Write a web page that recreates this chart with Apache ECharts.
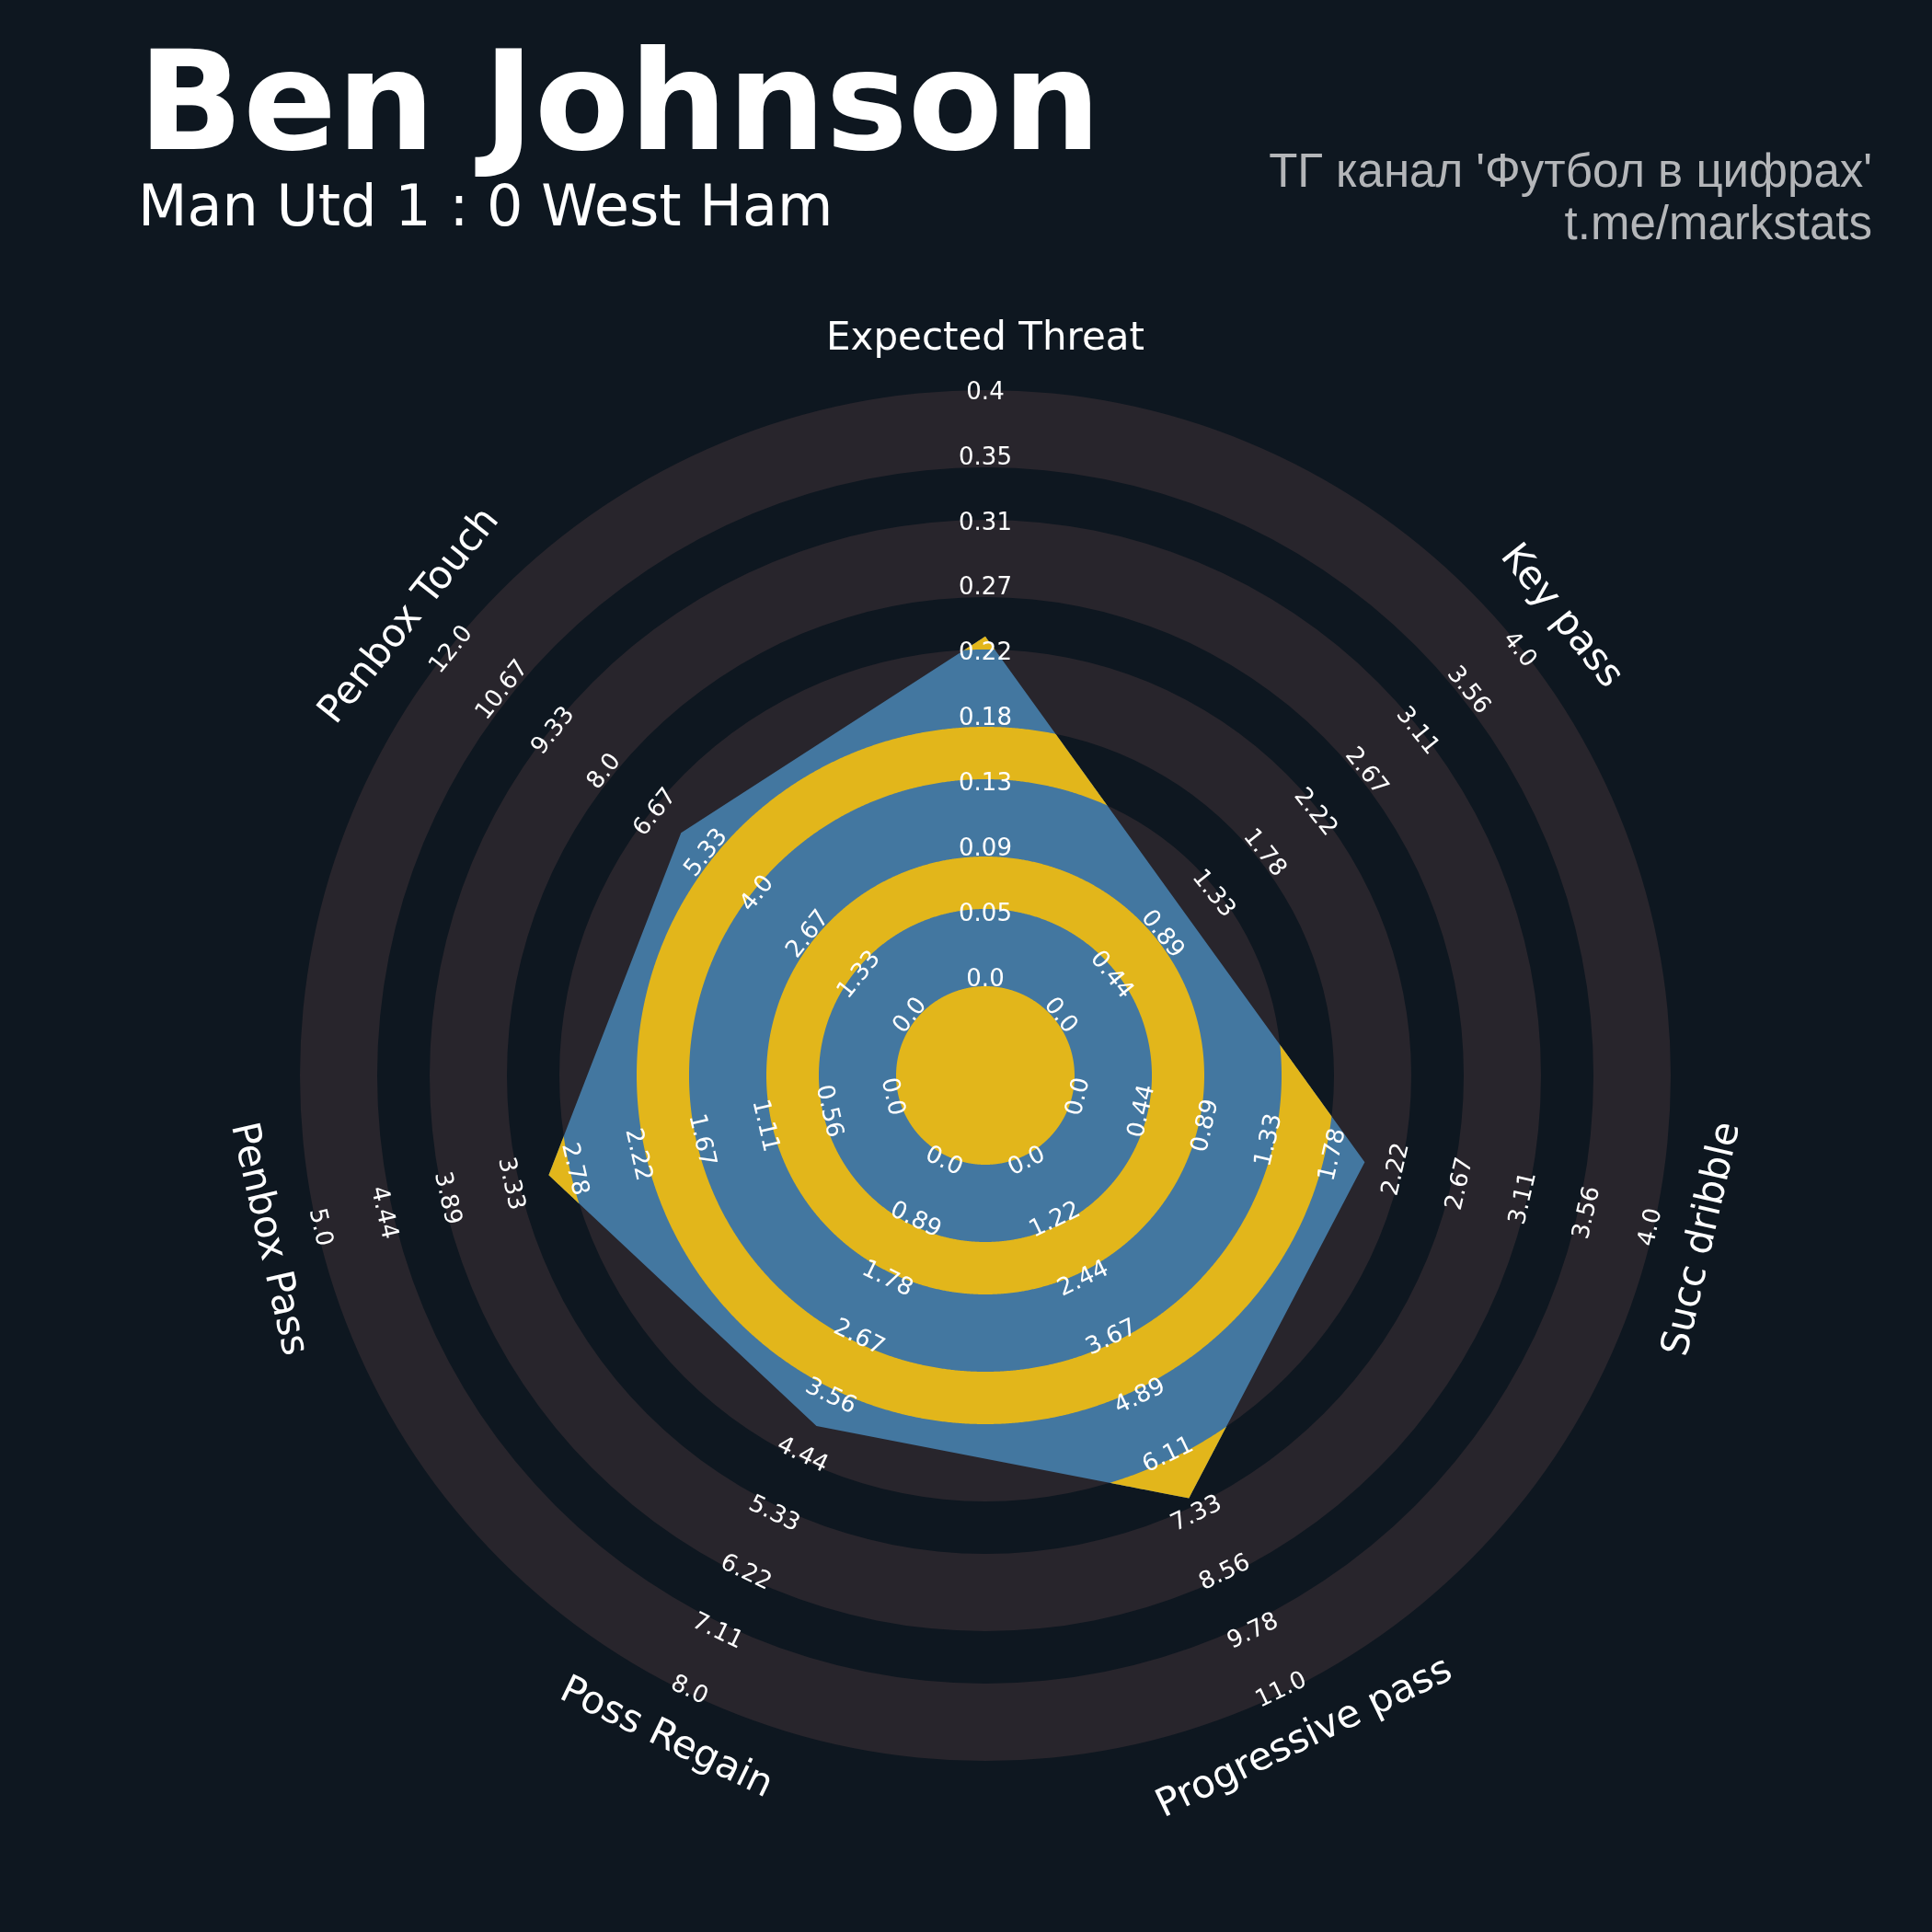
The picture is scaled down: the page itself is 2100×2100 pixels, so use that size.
<!DOCTYPE html>
<html>
<head>
<meta charset="utf-8">
<script src="https://cdn.jsdelivr.net/npm/echarts@6/dist/echarts.min.js"></script>
<style>
html,body{margin:0;padding:0;background:#0e1720;}
#c{width:2100px;height:2100px;}
</style>
</head>
<body>
<div id="c"></div>
<script>
// ---------------- data ----------------
const params = ['Expected Threat', 'Key pass', 'Succ dribble', 'Progressive pass', 'Poss Regain', 'Penbox Pass', 'Penbox Touch'];
const lowRange = [0, 0, 0, 0, 0, 0, 0];
const highRange = [0.4, 4, 4, 11, 8, 5, 12];
const values = [0.234, 1.1, 2, 7, 4, 3, 6];
const tickLabels = [
  ['0.0', '0.05', '0.09', '0.13', '0.18', '0.22', '0.27', '0.31', '0.35', '0.4'],
  ['0.0', '0.44', '0.89', '1.33', '1.78', '2.22', '2.67', '3.11', '3.56', '4.0'],
  ['0.0', '0.44', '0.89', '1.33', '1.78', '2.22', '2.67', '3.11', '3.56', '4.0'],
  ['0.0', '1.22', '2.44', '3.67', '4.89', '6.11', '7.33', '8.56', '9.78', '11.0'],
  ['0.0', '0.89', '1.78', '2.67', '3.56', '4.44', '5.33', '6.22', '7.11', '8.0'],
  ['0.0', '0.56', '1.11', '1.67', '2.22', '2.78', '3.33', '3.89', '4.44', '5.0'],
  ['0.0', '1.33', '2.67', '4.0', '5.33', '6.67', '8.0', '9.33', '10.67', '12.0']
];
const titleText = 'Ben Johnson';
const subtitleText = 'Man Utd 1 : 0 West Ham';
const creditLines = ["ТГ канал 'Футбол в цифрах'", 't.me/markstats'];

// ---------------- layout / style ----------------
const CX = 1071, CY = 1169, OUTER = 745;
const CENTER_R = 97, PERIOD = 141, GREY_W = 84, NUM_GREY = 5;
const R0 = 104, R1 = 742, LABEL_R = 800;
const BG = '#0e1720', GREY = '#28252c', BLUE = '#4377a0', YELLOW = '#e2b61b';

const chart = echarts.init(document.getElementById('c'), null, {renderer: 'canvas', width: 2100, height: 2100});

const NP = params.length;
function angleOf(i) { return i * 360 / NP; }
function valueRadius(i, v) { return R0 + (v - lowRange[i]) / (highRange[i] - lowRange[i]) * (R1 - R0); }
function rotOf(i) {
  let r = -angleOf(i);
  while (r <= -90) r += 180;
  while (r > 90) r -= 180;
  return r * Math.PI / 180;
}

function renderItem(p, api) {
  const c0 = api.coord([0, 0]);
  const px = u => c0[1] - api.coord([u, 0])[1];
  const children = [];
  // background rings
  for (let k = 0; k < NUM_GREY; k++) {
    const a = CENTER_R + k * PERIOD, b = a + GREY_W;
    children.push({type: 'ring', shape: {cx: c0[0], cy: c0[1], r: px(b), r0: px(a)}, style: {fill: GREY}});
  }
  // radar polygon
  const verts = values.map((v, i) => [valueRadius(i, v), angleOf(i)]);
  children.push({type: 'polygon', shape: {points: verts.map(d => api.coord(d))}, style: {fill: BLUE}});
  // radial function of polygon
  const V = verts.map(([r, a]) => [r * Math.sin(a * Math.PI / 180), r * Math.cos(a * Math.PI / 180)]);
  const cr = (a, b) => a[0] * b[1] - a[1] * b[0];
  function polyR(theta) {
    const step = 360 / NP;
    const i = Math.floor(theta / step) % NP, j = (i + 1) % NP;
    const d = [Math.sin(theta * Math.PI / 180), Math.cos(theta * Math.PI / 180)];
    const E = [V[j][0] - V[i][0], V[j][1] - V[i][1]];
    return cr(V[i], E) / cr(d, E);
  }
  let angs = [];
  for (let s = 0; s <= 1440; s++) angs.push(s * 0.25);
  for (let i = 0; i < NP; i++) angs.push(angleOf(i));
  angs = Array.from(new Set(angs.map(a => +a.toFixed(6)))).sort((a, b) => a - b);
  // clipped inner bands
  const bands = [[0, CENTER_R]];
  for (let k = 0; k < NUM_GREY - 1; k++) bands.push([CENTER_R + GREY_W + k * PERIOD, CENTER_R + (k + 1) * PERIOD]);
  bands.forEach(([a, b]) => {
    const pts = angs.map(t => api.coord([Math.max(a, Math.min(b, polyR(t))), t]));
    if (a > 0) {
      for (let q = angs.length - 1; q >= 0; q--) pts.push(api.coord([a, angs[q]]));
    } else {
      pts.push(c0);
    }
    children.push({type: 'polygon', shape: {points: pts}, style: {fill: YELLOW}});
  });
  // range labels
  for (let i = 0; i < NP; i++) {
    const labs = tickLabels[i];
    for (let k = 0; k < labs.length; k++) {
      const r = R0 + k / (labs.length - 1) * (R1 - R0);
      const pos = api.coord([r, angleOf(i)]);
      children.push({type: 'text', x: pos[0], y: pos[1], rotation: rotOf(i),
        style: {text: labs[k], fill: '#ffffff', font: '26px "DejaVu Sans"', align: 'center', verticalAlign: 'middle', textAlign: 'center', textVerticalAlign: 'middle'}});
    }
    const lp = api.coord([LABEL_R, angleOf(i)]);
    children.push({type: 'text', x: lp[0], y: lp[1], rotation: rotOf(i),
      style: {text: params[i], fill: '#ffffff', font: '42px "DejaVu Sans"', align: 'center', verticalAlign: 'middle', textAlign: 'center', textVerticalAlign: 'middle'}});
  }
  return {type: 'group', children: children};
}

const option = {
  backgroundColor: BG,
  animation: false,
  polar: {center: [CX, CY], radius: OUTER},
  radiusAxis: {type: 'value', min: 0, max: OUTER, show: false},
  angleAxis: {type: 'value', min: 0, max: 360, startAngle: 90, clockwise: true, show: false},
  series: [{
    type: 'custom',
    coordinateSystem: 'polar',
    clip: false,
    silent: true,
    data: [[0, 0]],
    renderItem: renderItem
  }],
  graphic: [
    {type: 'text', x: 150, y: 123, style: {text: titleText, fill: '#ffffff', font: 'bold 150px "DejaVu Sans"', align: 'left', verticalAlign: 'middle', textAlign: 'left', textVerticalAlign: 'middle'}},
    {type: 'text', x: 150, y: 229, style: {text: subtitleText, fill: '#ffffff', font: '62px "DejaVu Sans"', align: 'left', verticalAlign: 'middle', textAlign: 'left', textVerticalAlign: 'middle'}},
    {type: 'text', x: 2035, y: 189, style: {text: creditLines[0], fill: '#b4b6b9', font: '51px "Liberation Sans"', align: 'right', verticalAlign: 'middle', textAlign: 'right', textVerticalAlign: 'middle'}},
    {type: 'text', x: 2035, y: 246, style: {text: creditLines[1], fill: '#b4b6b9', font: '51px "Liberation Sans"', align: 'right', verticalAlign: 'middle', textAlign: 'right', textVerticalAlign: 'middle'}}
  ]
};
chart.setOption(option);
</script>
</body>
</html>
